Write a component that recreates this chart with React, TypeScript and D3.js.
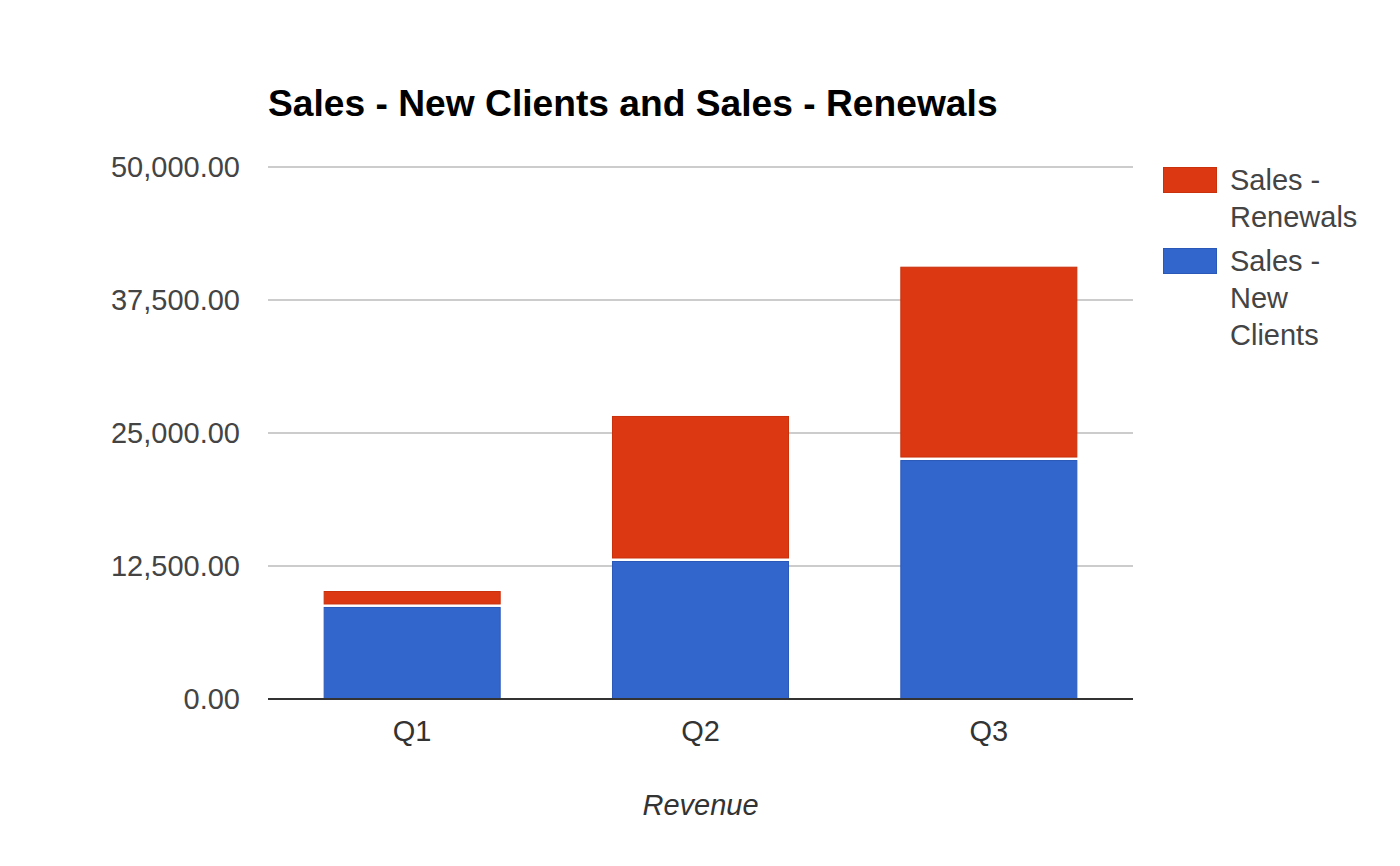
import React from "react";
import * as d3 from "d3";

const quarters = ["Q1", "Q2", "Q3"];
const newClients = [8650, 12970, 22460];
const renewals = [1500, 13630, 18170];
const yTicks = [0, 12500, 25000, 37500, 50000];
const seriesNames = ["Sales - Renewals", "Sales - New Clients"];
const legendLines = [["Sales -", "Renewals"], ["Sales -", "New", "Clients"]];
const titleText = "Sales - New Clients and Sales - Renewals";
const xAxisTitle = "Revenue";

const RED = "#dc3912";
const BLUE = "#3366cc";
const FONT = "'Liberation Sans', Arial, sans-serif";

export default function App() {
  const W = 1400, H = 866;
  const left = 268, right = 1133, top = 167, bottom = 699;
  const x = d3.scaleBand<string>().domain(quarters).range([left, right]).paddingInner(0.386).paddingOuter(0.193);
  const y = d3.scaleLinear().domain([0, 50000]).range([bottom, top]);
  const fmt = d3.format(",.2f");
  const gap = 3;

  return (
    <svg width={W} height={H} style={{ position: "absolute", left: 0, top: 0, background: "#fff" }} fontFamily={FONT}>
      <text x={268} y={116} fontSize={37.2} fontWeight="bold" fill="#000">{titleText}</text>
      {yTicks.map((t) => (
        <g key={t}>
          {t !== 0 && <line x1={left} x2={right} y1={y(t)} y2={y(t)} stroke="#cccccc" strokeWidth={2} />}
          <text x={240} y={y(t)} dy="0.35em" textAnchor="end" fontSize={29} fill="#444">{fmt(t)}</text>
        </g>
      ))}
      {quarters.map((q, i) => {
        const bx = x(q)!;
        const bw = x.bandwidth();
        const yb = y(newClients[i]);
        const yr = y(newClients[i] + renewals[i]);
        return (
          <g key={q}>
            <rect x={bx + 0.5} y={yb + 0.5} width={bw - 1} height={bottom - yb - 0.5} fill={BLUE} stroke="#2a58b8" strokeWidth={1} />
            <rect x={bx + 0.5} y={yr + 0.5} width={bw - 1} height={Math.max(0, yb - gap - yr - 0.5)} fill={RED} stroke="#c9300c" strokeWidth={1} />
            <text x={bx + bw / 2} y={731} dy="0.35em" textAnchor="middle" fontSize={29} fill="#333">{q}</text>
          </g>
        );
      })}
      <line x1={left} x2={right} y1={bottom} y2={bottom} stroke="#333" strokeWidth={2} />
      <text x={(left + right) / 2} y={805} dy="0.35em" textAnchor="middle" fontSize={29} fontStyle="italic" fill="#333">{xAxisTitle}</text>
      {seriesNames.map((name, i) => {
        const ly = i === 0 ? 167 : 248;
        return (
          <g key={name}>
            <rect x={1163.5} y={ly + 0.5} width={53} height={25} fill={i === 0 ? RED : BLUE} stroke={i === 0 ? "#c9300c" : "#2a58b8"} strokeWidth={1} />
            {legendLines[i].map((l, j) => (
              <text key={j} x={1230} y={ly + 13 + j * 37} dy="0.35em" fontSize={29} fill="#444">{l}</text>
            ))}
          </g>
        );
      })}
    </svg>
  );
}
